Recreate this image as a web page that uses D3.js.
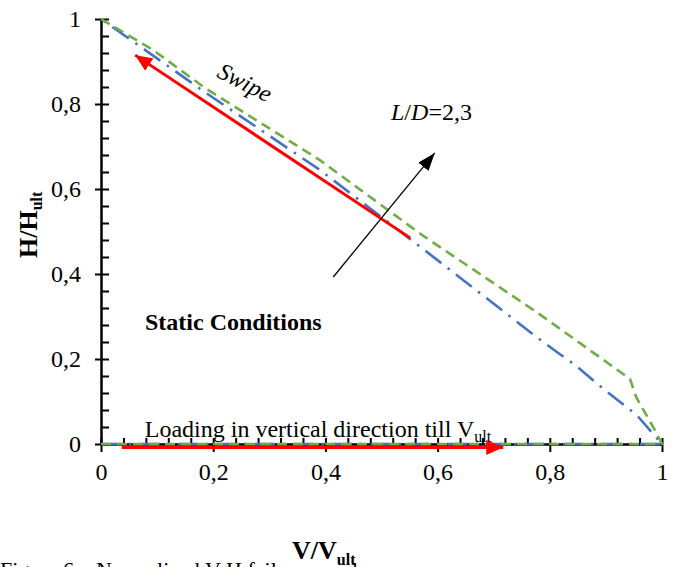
<!DOCTYPE html>
<html>
<head>
<meta charset="utf-8">
<script src="https://cdn.jsdelivr.net/npm/d3@7"></script>
<style>
  body { margin: 0; background: #fff; }
  svg { display: block; font-family: "Liberation Serif", "Times New Roman", serif; }
</style>
</head>
<body>
<div id="chart"></div>
<script>
// ====== Normalized V-H failure envelopes ======

// L/D = 2 (blue, dash-dot): vertical loading along H=0, then swipe back to (0,1)
let vLD2 = [0, 1, 0.955, 0.898, 0.845, 0.815, 0.779, 0.574, 0.39, 0.185, 0.096, 0];
let hLD2 = [0, 0, 0.068, 0.127, 0.186, 0.214, 0.249, 0.459, 0.645, 0.828, 0.911, 1];

// L/D = 3 (green, dashed)
let vLD3 = [0, 1, 0.987, 0.97, 0.954, 0.943, 0.779, 0.572, 0.39, 0.185, 0.093, 0];
let hLD3 = [0, 0, 0.033, 0.073, 0.11, 0.153, 0.308, 0.492, 0.668, 0.838, 0.927, 1];

// ticks
let majorTicks = [0, 0.2, 0.4, 0.6, 0.8, 1];
let tickLabels = ["0", "0,2", "0,4", "0,6", "0,8", "1"];
let minorTicks = d3.range(0, 25).map(function(i) { return i * 0.04; }).concat([1]);

// annotation arrows (data units)
let loadArrowV = [0.037, 0.717], loadArrowH = [-0.008, -0.008];
let swipeArrowV = [0.551, 0.061], swipeArrowH = [0.485, 0.915];
let ldArrowV = [0.414, 0.595], ldArrowH = [0.393, 0.685];

let W = 678, H = 567;

let x = d3.scaleLinear().domain([0, 1]).range([101, 662]);
let y = d3.scaleLinear().domain([0, 1]).range([444, 19]);

let svg = d3.select("#chart").append("svg")
    .attr("width", W)
    .attr("height", H);

let defs = svg.append("defs");
function addMarker(id, color, len, wid) {
    defs.append("marker")
        .attr("id", id)
        .attr("markerUnits", "userSpaceOnUse")
        .attr("viewBox", "0 0 " + len + " " + wid)
        .attr("refX", len).attr("refY", wid / 2)
        .attr("markerWidth", len).attr("markerHeight", wid)
        .attr("orient", "auto")
        .append("path")
        .attr("d", "M0,0 L" + len + "," + (wid / 2) + " L0," + wid + " Z")
        .attr("fill", color);
}
addMarker("redHead", "#ff0000", 17, 15);
addMarker("blackHead", "#000", 18, 13);

// ---- axes ----
function styleAxis(g) {
    g.selectAll("path.domain").attr("stroke", "#000").attr("stroke-width", 2);
    g.selectAll(".tick line").attr("stroke", "#000").attr("stroke-width", 2);
    g.selectAll(".tick text")
        .attr("font-family", "Liberation Serif")
        .attr("font-size", 24)
        .attr("fill", "#000");
}

// y: major ticks outward with labels, all ticks inward
svg.append("g")
    .attr("transform", "translate(" + x(0) + ",0)")
    .call(d3.axisLeft(y).tickValues(majorTicks).tickSize(6).tickSizeOuter(0).tickPadding(14)
        .tickFormat(function(d, i) { return tickLabels[i]; }))
    .call(styleAxis);
svg.append("g")
    .attr("transform", "translate(" + x(0) + ",0)")
    .call(d3.axisRight(y).tickValues(minorTicks).tickSize(8).tickSizeOuter(0).tickFormat(""))
    .call(styleAxis);

// x: major ticks downward with labels, all ticks upward
svg.append("g")
    .attr("transform", "translate(0," + y(0) + ")")
    .call(d3.axisBottom(x).tickValues(majorTicks).tickSize(8).tickSizeOuter(0).tickPadding(11)
        .tickFormat(function(d, i) { return tickLabels[i]; }))
    .call(styleAxis);
svg.append("g")
    .attr("transform", "translate(0," + y(0) + ")")
    .call(d3.axisTop(x).tickValues(minorTicks).tickSize(6).tickSizeOuter(0).tickFormat(""))
    .call(styleAxis);

// ---- envelopes ----
let line = d3.line()
    .x(function(d) { return x(d[0]); })
    .y(function(d) { return y(d[1]); });

let ld2 = vLD2.map(function(v, i) { return [v, hLD2[i]]; });
let ld3 = vLD3.map(function(v, i) { return [v, hLD3[i]]; });

svg.append("path")
    .datum(ld2)
    .attr("d", line)
    .attr("fill", "none")
    .attr("stroke", "#4472c4")
    .attr("stroke-width", 2.6)
    .attr("stroke-dasharray", "20,8,2.5,8");

svg.append("path")
    .datum(ld3)
    .attr("d", line)
    .attr("fill", "none")
    .attr("stroke", "#70ad47")
    .attr("stroke-width", 2.6)
    .attr("stroke-dasharray", "10,6");

// ---- annotation arrows ----
function arrow(vs, hs, color, w, marker) {
    svg.append("line")
        .attr("x1", x(vs[0])).attr("y1", y(hs[0]))
        .attr("x2", x(vs[1])).attr("y2", y(hs[1]))
        .attr("stroke", color)
        .attr("stroke-width", w)
        .attr("marker-end", "url(#" + marker + ")");
}
arrow(loadArrowV, loadArrowH, "#ff0000", 3, "redHead");
arrow(swipeArrowV, swipeArrowH, "#ff0000", 3, "redHead");
arrow(ldArrowV, ldArrowH, "#000", 1.3, "blackHead");

// ---- texts ----
let load = svg.append("text")
    .attr("x", x(0.078)).attr("y", y(0.017))
    .attr("font-size", 24);
load.append("tspan").text("Loading in vertical direction till V");
load.append("tspan").attr("font-size", 16).attr("dy", 5).text("ult");

svg.append("text")
    .attr("transform", "translate(245,82) rotate(27)")
    .attr("text-anchor", "middle")
    .attr("dy", "0.35em")
    .attr("font-size", 24)
    .attr("font-style", "italic")
    .text("Swipe");

let ld = svg.append("text")
    .attr("x", 391).attr("y", 120)
    .attr("font-size", 24);
ld.append("tspan").attr("font-style", "italic").text("L");
ld.append("tspan").text("/");
ld.append("tspan").attr("font-style", "italic").text("D");
ld.append("tspan").text("=2,3");

svg.append("text")
    .attr("x", 145).attr("y", 330)
    .attr("font-size", 24)
    .attr("font-weight", "bold")
    .text("Static Conditions");

// axis titles
let yt = svg.append("text")
    .attr("transform", "translate(37,258) rotate(-90)")
    .attr("font-size", 26)
    .attr("font-weight", "bold");
yt.append("tspan").text("H/H");
yt.append("tspan").attr("font-size", 16).attr("dy", 5).text("ult");

let xt = svg.append("text")
    .attr("x", 292).attr("y", 559)
    .attr("font-size", 26)
    .attr("font-weight", "bold");
xt.append("tspan").text("V/V");
xt.append("tspan").attr("font-size", 16).attr("dy", 6).text("ult");

// caption, cut by the page edge
svg.append("text")
    .attr("x", 0).attr("y", 577)
    .attr("font-size", 22)
    .text("Figure 6 \u2013 Normalized V-H failure envelopes");
</script>
</body>
</html>
